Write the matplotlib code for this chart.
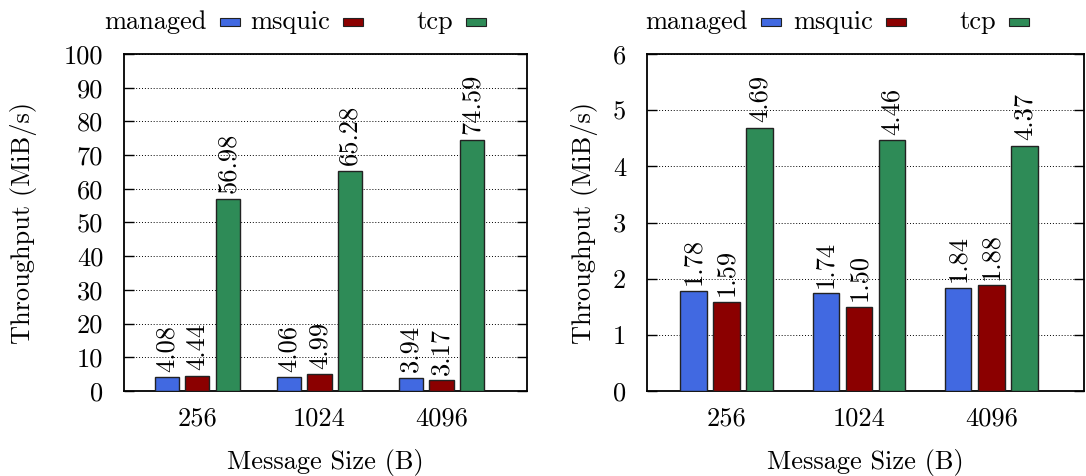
import matplotlib.pyplot as plt
from matplotlib.patches import Rectangle
import numpy as np

plt.rcParams['font.family'] = ['cmr10', 'DejaVu Serif']
plt.rcParams['axes.formatter.use_mathtext'] = True

# datos
sizes = ['256', '1024', '4096']
series = ['managed', 'msquic', 'tcp']
colors = ['#4169E1', '#8B0000', '#2E8B57']

left_managed = [4.08, 4.06, 3.94]
left_msquic = [4.44, 4.99, 3.17]
left_tcp = [56.98, 65.28, 74.59]

right_managed = [1.78, 1.74, 1.84]
right_msquic = [1.59, 1.50, 1.88]
right_tcp = [4.69, 4.46, 4.37]

left_ticks = [0, 10, 20, 30, 40, 50, 60, 70, 80, 90, 100]
right_ticks = [0, 1, 2, 3, 4, 5, 6]

W, H = 1086, 476
fs = 19
fig = plt.figure(figsize=(W / 100, H / 100), dpi=100)


def panel(rect, data, yticks, legend_ends, ylab_x):
    ax = fig.add_axes(rect)
    x = np.arange(len(sizes))
    for i, vals in enumerate(data):
        xs = x + (i - 1) * 0.25
        ax.bar(xs, vals, width=0.2, color=colors[i], edgecolor='#222222',
               linewidth=1.0, zorder=3)
        for xi, v in zip(xs, vals):
            ax.annotate(f'{v:.2f}', (xi, v), xytext=(0, 4),
                        textcoords='offset points', rotation=90,
                        ha='center', va='bottom', fontsize=fs)
    ax.set_xlim(-0.6, 2.7)
    ax.set_ylim(yticks[0], yticks[-1])
    ax.set_yticks(yticks)
    ax.set_yticklabels([str(t) for t in yticks], fontsize=fs)
    ax.set_xticks(x)
    ax.set_xticklabels(sizes, fontsize=fs)
    ax.tick_params(axis='y', direction='in', length=7, right=True, pad=15, width=1)
    ax.tick_params(axis='x', length=0, pad=11)
    ax.yaxis.grid(True, color='black', linestyle=(0, (1, 2)), linewidth=0.7,
                  zorder=0)
    ax.set_axisbelow(True)
    for s in ax.spines.values():
        s.set_linewidth(1.3)
    ax.set_xlabel('Message Size (B)', fontsize=fs)
    ax.xaxis.set_label_coords(0.5, -(449 - 391) / 337)
    ax.set_ylabel('Throughput (MiB/s)', fontsize=fs)
    ax.yaxis.set_label_coords(ylab_x, 0.5)
    ax.yaxis.label.set_verticalalignment('center')

    # leyenda estilo gnuplot
    for name, col, end in zip(series, colors, legend_ends):
        fig.text(end / W, 1 - 22 / H, name, ha='right', va='center', fontsize=fs)
        fig.patches.append(Rectangle(((end + 13) / W, 1 - 26 / H), 20 / W, 8 / H,
                                     transform=fig.transFigure, facecolor=col,
                                     edgecolor='#222222', linewidth=0.8))
    return ax


panel([124 / W, 1 - 391 / H, 403 / W, 337 / H],
      [left_managed, left_msquic, left_tcp], left_ticks, [207, 330, 453],
      (24 - 124) / 403)
panel([647 / W, 1 - 391 / H, 437 / W, 337 / H],
      [right_managed, right_msquic, right_tcp], right_ticks, [748, 873, 996],
      (585 - 647) / 437)

fig.savefig('out.png', dpi=100)
